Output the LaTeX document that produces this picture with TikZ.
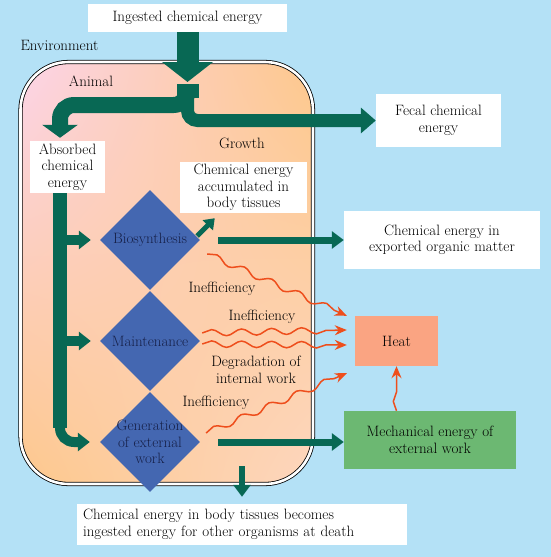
\documentclass[tikz,border=0pt]{standalone}
\usetikzlibrary{shapes,shadings,arrows.meta,decorations.pathmorphing}
\definecolor{envblue}{RGB}{180,225,246}
\definecolor{animalpink}{RGB}{252,212,232}
\definecolor{animalorange}{RGB}{253,200,140}
\definecolor{animalpeach}{RGB}{253,214,190}
\definecolor{flowteal}{RGB}{8,104,84}
\definecolor{stepblue}{RGB}{68,103,177}
\definecolor{steptext}{RGB}{22,32,72}
\definecolor{heatred}{RGB}{238,78,28}
\definecolor{heatfill}{RGB}{250,164,130}
\definecolor{workgreen}{RGB}{108,184,114}
\tikzstyle{textbox} = [rectangle, fill=white, text centered, align=center, inner sep=0pt]
\tikzstyle{process} = [diamond, fill=stepblue, text=steptext, align=center, inner sep=0pt, minimum width=100pt, minimum height=100pt]
\tikzstyle{flow} = [draw=flowteal]
\tikzstyle{heatflow} = [draw=heatred, line width=1.5pt, decorate, decoration={snake, amplitude=3.2pt, segment length=30pt, post length=11pt}, -{Stealth[length=12pt,width=10pt]}]

\begin{document}
\begin{tikzpicture}[x=1pt, y=-1pt, node distance=101pt, every node/.style={font=\fontsize{15}{16.5}\selectfont}]
            \useasboundingbox (0,0) rectangle (551,557);
            \fill[envblue] (0,0) rectangle (551,557);
            \shade[rounded corners=48pt, upper left=animalpink, upper right=animalorange, lower left=animalorange, lower right=animalpeach] (20.5,62) rectangle (313,484);
            \draw[rounded corners=48pt, line width=0.8pt, double=white, double distance=2.6pt] (20.5,62) rectangle (313,484);

            \node[anchor=west] (environment) at (17,45) {Environment};
            \node (animal) at (91,81) {Animal};
            \node (growth) at (242,143) {Growth};

            \node[textbox, minimum width=199pt, minimum height=28pt] (ingested) at (187.5,18) {Ingested chemical energy};
            \node[textbox, minimum width=75pt, minimum height=52pt] (absorbed) at (67.5,167) {Absorbed\\chemical\\energy};
            \node[textbox, minimum width=125pt, minimum height=53pt] (fecal) at (438.5,120.5) {Fecal chemical\\energy};
            \node[textbox, minimum width=127pt, minimum height=51pt] (accumulated) at (243.5,187.5) {Chemical energy\\accumulated in\\body tissues};
            \node[textbox, minimum width=196pt, minimum height=58pt] (exported) at (442,240) {Chemical energy in\\exported organic matter};
            \node[textbox, fill=heatfill, minimum width=83pt, minimum height=50pt] (heat) at (396.5,341) {Heat};
            \node[textbox, fill=workgreen, minimum width=172pt, minimum height=58pt] (mechanical) at (430,440) {Mechanical energy of\\external work};
            \node[textbox, text width=318pt, align=left, inner xsep=6pt, minimum height=41pt] (death) at (242,524.5) {Chemical energy in body tissues becomes\\ingested energy for other organisms at death};

            \node[process] (bio) at (150,240) {Biosynthesis};
            \node[process, below of=bio] (maint) {Maintenance};
            \node[process, below of=maint, inner sep=-4pt] (gen) {Generation\\of external\\work};

            \coordinate (split) at (187.5,84);
            \coordinate (trunk) at (60,193);
            \coordinate (tissue) at (242,466);

            \path [flow, line width=22pt, -{Triangle[width=50pt,length=20pt]}] (ingested.south) -- ([yshift=2pt]split);
            \path [flow, line width=22pt] (split) -- ++(0,14);
            \path [flow, line width=16pt, rounded corners=14pt, -{Triangle[width=35pt,length=13pt]}] (split) -- ++(0,21) -| ([yshift=3pt]trunk |- absorbed.north);
            \path [flow, line width=13pt, rounded corners=10pt, -{Triangle[width=25pt,length=15pt]}] (split) |- (fecal.west);
            \path [flow, line width=14pt] (trunk) -- ++(0,235);
            \path [flow, line width=10pt, rounded corners=14pt, -{Triangle[width=18pt,length=12pt]}] ([yshift=-222pt]trunk) |- ([xshift=-10pt]gen.west);
            \path [flow, line width=10pt, -{Triangle[width=18pt,length=12pt]}] (trunk |- bio.west) -- ([xshift=-9pt]bio.west);
            \path [flow, line width=10pt, -{Triangle[width=18pt,length=12pt]}] (trunk |- maint.west) -- ([xshift=-9pt]maint.west);
            \path [flow, line width=5pt, -{Triangle[width=14pt,length=10pt]}] ([xshift=-3pt,yshift=4pt]bio.east) -- ([xshift=35pt,yshift=-5pt]accumulated.south west);
            \path [flow, line width=7pt, -{Triangle[width=17pt,length=12pt]}] ([xshift=18pt]bio.east) -- (exported.west);
            \path [flow, line width=7pt, -{Triangle[width=17pt,length=12pt]}] ([xshift=18pt]gen.east) -- (mechanical.west |- gen.east);
            \path [flow, line width=6pt, -{Triangle[width=17pt,length=12pt]}] (tissue) -- ([yshift=7pt]death.north);

            \path [heatflow] ([xshift=7pt,yshift=-14pt]bio.east) -- ([xshift=-8pt]heat.north west);
            \path [heatflow] ([xshift=2pt,yshift=8pt]maint.east) -- ([xshift=-8pt,yshift=11pt]heat.west);
            \path [heatflow] ([xshift=2pt,yshift=-3pt]maint.east) -- ([xshift=-8pt,yshift=-4pt]heat.west);
            \path [heatflow] ([xshift=6pt,yshift=9pt]gen.east) -- ([xshift=-8pt,yshift=-7pt]heat.south west);
            \path [heatflow] (heat.south |- mechanical.north) -- (heat.south);

            \node (ineffbio) at (222,289) {Inefficiency};
            \node (ineffmaint) at (262,317) {Inefficiency};
            \node[align=center] (degradation) at (256,370) {Degradation of\\internal work};
            \node (ineffgen) at (216,403) {Inefficiency};
        \end{tikzpicture}
\end{document}
